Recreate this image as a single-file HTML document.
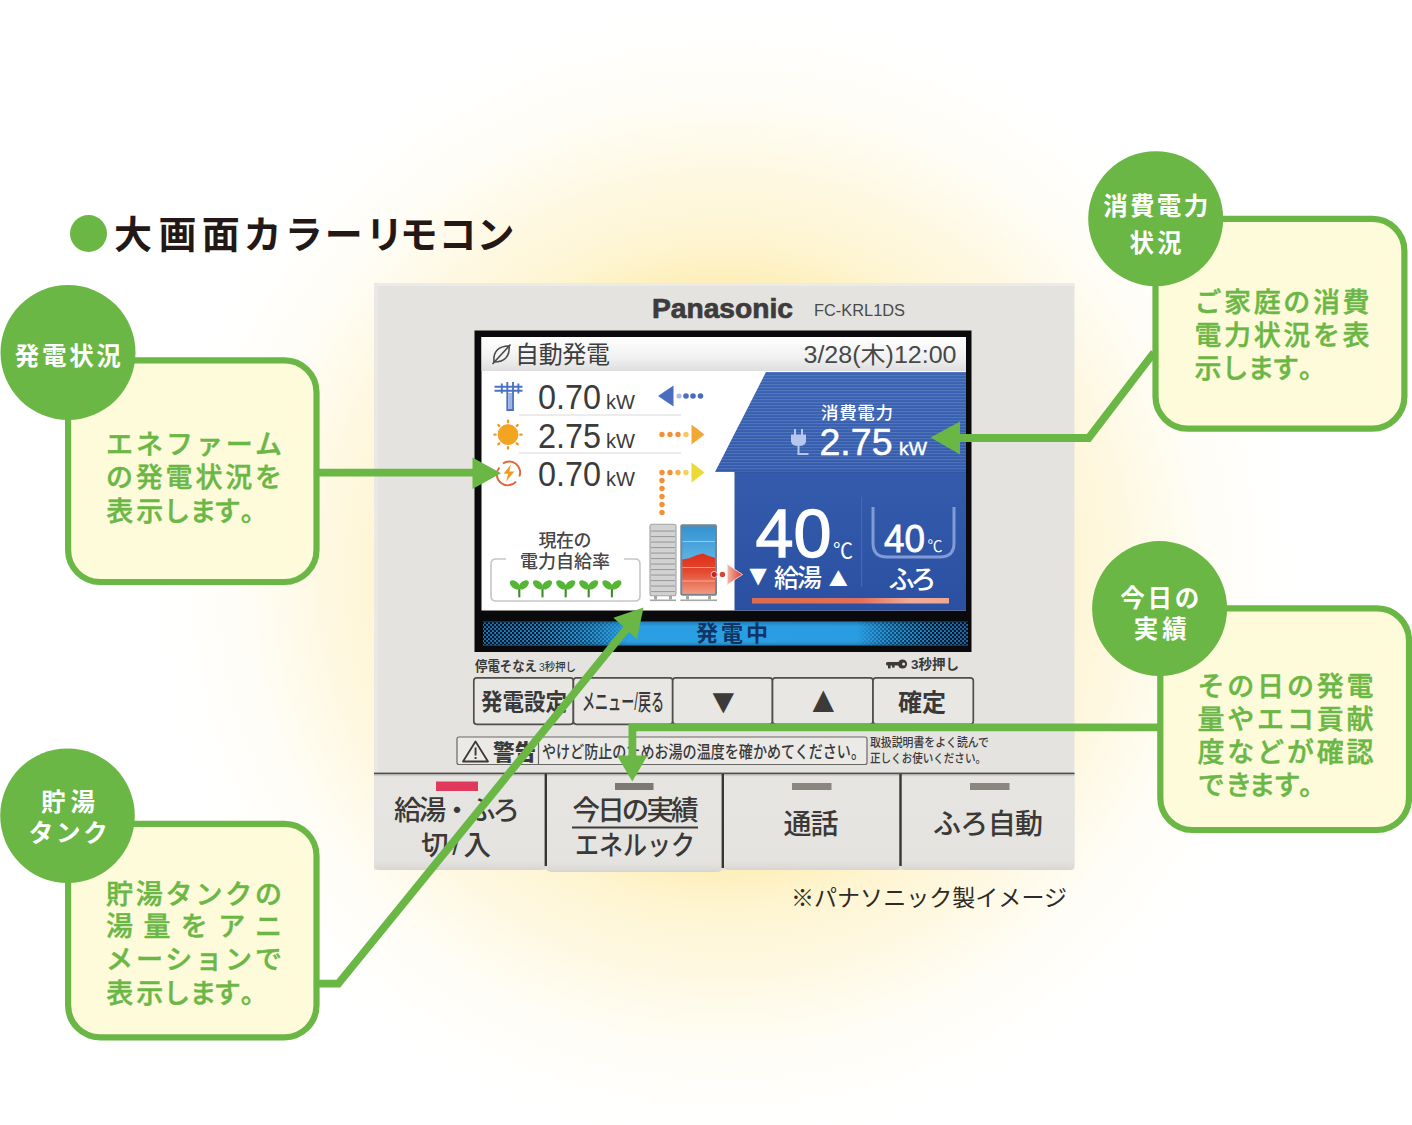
<!DOCTYPE html>
<html lang="ja">
<head>
<meta charset="utf-8">
<title>大画面カラーリモコン</title>
<style>
html,body{margin:0;padding:0;background:#fff;}
body{width:1412px;height:1125px;overflow:hidden;position:relative;font-family:"Liberation Sans","Noto Sans CJK JP",sans-serif;}
svg{position:absolute;left:0;top:0;display:block;}
text{font-family:"Liberation Sans","Noto Sans CJK JP",sans-serif;}
.gt{fill:#6bb745;font-size:27px;font-weight:500;stroke:#6bb745;stroke-width:0.45px;}
.ct{fill:#fff;font-size:24.5px;font-weight:700;text-anchor:middle;}
.dk{fill:#3a3a3a;}
.bt{fill:#3a3938;}
.wt{fill:#fff;}
</style>
</head>
<body>
<svg width="1412" height="1125" viewBox="0 0 1412 1125">
<defs>
<radialGradient id="glow" cx="0.5" cy="0.5" r="0.5">
<stop offset="0" stop-color="#fdeba8" stop-opacity="1"/>
<stop offset="0.5" stop-color="#fdeba8" stop-opacity="0.84"/>
<stop offset="0.55" stop-color="#fdeba8" stop-opacity="0.66"/>
<stop offset="0.6" stop-color="#fdeba8" stop-opacity="0.5"/>
<stop offset="0.64" stop-color="#fdeba8" stop-opacity="0.43"/>
<stop offset="0.7" stop-color="#fdeba8" stop-opacity="0.34"/>
<stop offset="0.76" stop-color="#fdeba8" stop-opacity="0.23"/>
<stop offset="0.84" stop-color="#fdeba8" stop-opacity="0.11"/>
<stop offset="0.93" stop-color="#fdeba8" stop-opacity="0.035"/>
<stop offset="1" stop-color="#fdeba8" stop-opacity="0"/>
</radialGradient>
<linearGradient id="hdr" x1="0" y1="0" x2="0" y2="1">
<stop offset="0" stop-color="#ffffff"/>
<stop offset="0.6" stop-color="#f1f1f1"/>
<stop offset="1" stop-color="#dedede"/>
</linearGradient>
<linearGradient id="blue" x1="0" y1="0" x2="0" y2="1">
<stop offset="0" stop-color="#3a63b4"/>
<stop offset="1" stop-color="#2b50a2"/>
</linearGradient>
<linearGradient id="redbar" x1="0" y1="0" x2="1" y2="0">
<stop offset="0" stop-color="#dd6a52"/>
<stop offset="0.55" stop-color="#e0705a"/>
<stop offset="0.8" stop-color="#f0ab98"/>
<stop offset="1" stop-color="#efa794"/>
</linearGradient>
<linearGradient id="status" x1="0" y1="0" x2="1" y2="0">
<stop offset="0" stop-color="#1f7fc0"/>
<stop offset="0.15" stop-color="#2894d6"/>
<stop offset="0.3" stop-color="#2b9fe3"/>
<stop offset="0.78" stop-color="#2a9de2"/>
<stop offset="0.9" stop-color="#2690d2"/>
<stop offset="1" stop-color="#1c75b4"/>
</linearGradient>
<mask id="dotmask" maskUnits="userSpaceOnUse" x="483" y="619" width="485" height="26"><rect x="483" y="619" width="485" height="26" fill="url(#dotmaskg)"/></mask>
<linearGradient id="statusfade" x1="0" y1="0" x2="0" y2="1">
<stop offset="0" stop-color="#000" stop-opacity="0.22"/>
<stop offset="0.2" stop-color="#000" stop-opacity="0"/>
<stop offset="0.85" stop-color="#000" stop-opacity="0"/>
<stop offset="1" stop-color="#000" stop-opacity="0.2"/>
</linearGradient>
<linearGradient id="dotmaskg" x1="0" y1="0" x2="1" y2="0">
<stop offset="0" stop-color="#fff"/><stop offset="0.12" stop-color="#eee"/><stop offset="0.22" stop-color="#888"/><stop offset="0.3" stop-color="#000"/><stop offset="0.77" stop-color="#000"/><stop offset="0.84" stop-color="#888"/><stop offset="0.92" stop-color="#eee"/><stop offset="1" stop-color="#fff"/>
</linearGradient>
<pattern id="dots" width="4" height="4" patternUnits="userSpaceOnUse"><circle cx="1" cy="1" r="1.35" fill="#03162b"/><circle cx="3" cy="3" r="1.35" fill="#03162b"/></pattern>
<linearGradient id="tarrow" x1="0" y1="0" x2="1" y2="0"><stop offset="0" stop-color="#f3b9a6"/><stop offset="1" stop-color="#dc3a2c"/></linearGradient>
<linearGradient id="btn" x1="0" y1="0" x2="0" y2="1"><stop offset="0" stop-color="#e6e5e1"/><stop offset="0.9" stop-color="#e4e3df"/><stop offset="0.97" stop-color="#dcdbd7"/><stop offset="1" stop-color="#d6d5d1"/></linearGradient>
<linearGradient id="water" x1="0" y1="0" x2="0" y2="1"><stop offset="0" stop-color="#3493d2"/><stop offset="0.45" stop-color="#59b0e2"/><stop offset="1" stop-color="#59b0e2"/></linearGradient>
<linearGradient id="hot" x1="0" y1="0" x2="0" y2="1"><stop offset="0" stop-color="#de2f1a"/><stop offset="0.45" stop-color="#e4492f"/><stop offset="1" stop-color="#f09a82"/></linearGradient>
<pattern id="stripes" width="4" height="3" patternUnits="userSpaceOnUse"><rect width="4" height="1.2" fill="#fff"/></pattern>
</defs>
<!-- BACKGROUND -->
<rect width="1412" height="1125" fill="#ffffff"/>
<ellipse cx="725" cy="574" rx="572" ry="570" fill="url(#glow)"/>
<!-- TITLE -->
<circle cx="88.5" cy="233.5" r="18.5" fill="#6bb745"/>
<text x="114.0 158.5 201.75 243.5 284.75 324.75 365.5 399.75 438.5 476.5" y="247.500" font-size="38" font-weight="700" fill="#231815">大画面カラーリモコン</text>
<!-- DEVICE -->
<g id="device">
<rect x="374" y="283" width="700.5" height="587" rx="3" fill="#e4e3df"/>
<rect x="374" y="283" width="700.5" height="3" fill="#ecebe8"/>
<rect x="374" y="283" width="4" height="587" fill="#e9e8e5"/>
<!-- brand -->
<text x="652" y="318" font-size="27" font-weight="700" fill="#3d3b3b" stroke="#3d3b3b" stroke-width="0.7" textLength="141" lengthAdjust="spacingAndGlyphs">Panasonic</text>
<text x="814" y="316" font-size="16" fill="#4a4a4a" textLength="91" lengthAdjust="spacingAndGlyphs">FC-KRL1DS</text>
<!-- small labels -->
<text x="475" y="671" font-size="13.5" font-weight="700" fill="#3a3a3a" textLength="62" lengthAdjust="spacingAndGlyphs">停電そなえ</text>
<text x="539" y="671" font-size="11" font-weight="500" fill="#3a3a3a" textLength="37" lengthAdjust="spacingAndGlyphs">3秒押し</text>
<g fill="#3a3a3a"><circle cx="902.5" cy="664" r="4.6"/><rect x="886" y="662" width="14" height="3.6" rx="1.5"/><rect x="888" y="664" width="2.6" height="4.4"/><rect x="892" y="664" width="2.6" height="3.6"/><circle cx="903.6" cy="664" r="1.5" fill="#e4e3df"/></g>
<text x="911" y="669" font-size="13.5" font-weight="700" fill="#3a3a3a" textLength="48" lengthAdjust="spacingAndGlyphs">3秒押し</text>
<!-- small buttons -->
<g fill="#e8e7e4" stroke="#524e4b" stroke-width="1.7">
<rect x="473.800" y="677.800" width="99.600" height="46.500" rx="3"/>
<rect x="573.400" y="677.800" width="99.300" height="46.500" rx="3"/>
<rect x="672.700" y="677.800" width="99.800" height="46.500" rx="3"/>
<rect x="772.500" y="677.800" width="100.500" height="46.500" rx="3"/>
<rect x="873" y="677.800" width="100.300" height="46.500" rx="3"/>
</g>
<text x="481" y="710" font-size="23" class="bt" font-weight="700" textLength="86" lengthAdjust="spacingAndGlyphs">発電設定</text>
<text x="582" y="710" font-size="23" class="bt" font-weight="500" textLength="82" lengthAdjust="spacingAndGlyphs">メニュー/戻る</text>
<text transform="translate(705.14 712.86) scale(0.3649 0.3448)" x="0" y="0" font-size="100" fill="#3c3b3a">▼</text>
<text transform="translate(805.14 712.40) scale(0.3649 0.3690)" x="0" y="0" font-size="100" fill="#3c3b3a">▲</text>
<text x="898" y="710.500" font-size="24" class="bt" font-weight="700" textLength="48" lengthAdjust="spacingAndGlyphs">確定</text>
<!-- warning row -->
<rect x="457" y="737" width="410" height="27.5" rx="2" fill="#ebeae7" stroke="#6a6865" stroke-width="1.2"/>
<line x1="538.5" y1="737" x2="538.5" y2="764.5" stroke="#6a6865" stroke-width="1.2"/>
<path d="M475.5 741.5L488 761.5H463Z" fill="none" stroke="#3a3a3a" stroke-width="1.8" stroke-linejoin="round"/>
<rect x="474.6" y="747.5" width="1.9" height="8" fill="#3a3a3a"/><rect x="474.6" y="757" width="1.9" height="2" fill="#3a3a3a"/>
<text x="493" y="759.5" font-size="22" font-weight="900" fill="#3a3a3a" textLength="43" lengthAdjust="spacingAndGlyphs">警告</text>
<text x="542" y="758" font-size="17.5" font-weight="500" fill="#3a3a3a" textLength="323" lengthAdjust="spacingAndGlyphs">やけど防止のためお湯の温度を確かめてください。</text>
<text x="870" y="747" font-size="12.5" font-weight="500" fill="#3a3a3a" textLength="119" lengthAdjust="spacingAndGlyphs">取扱説明書をよく読んで</text>
<text x="870" y="763" font-size="12.5" font-weight="500" fill="#3a3a3a" textLength="116" lengthAdjust="spacingAndGlyphs">正しくお使いください。</text>
<!-- big buttons -->
<rect x="374" y="774" width="172" height="96" rx="5" fill="url(#btn)"/>
<rect x="546" y="774" width="177" height="98" rx="5" fill="url(#btn)"/>
<rect x="723" y="774" width="177.500" height="96" rx="5" fill="url(#btn)"/>
<rect x="900.500" y="774" width="174" height="96" rx="5" fill="url(#btn)"/>
<rect x="374" y="772.600" width="700.500" height="1.900" fill="#4f4c49"/>
<rect x="374" y="774.500" width="700.500" height="1.600" fill="#cfcdc9"/>
<rect x="544.600" y="774" width="2.400" height="92" fill="#383533"/>
<rect x="721.600" y="774" width="2.400" height="94" fill="#383533"/>
<rect x="899.300" y="774" width="2.400" height="92" fill="#383533"/>
<rect x="436" y="781.5" width="42" height="9.5" fill="#e0395b"/>
<rect x="615" y="783" width="38.5" height="7" fill="#7d7873"/>
<rect x="792" y="783" width="39.5" height="7" fill="#8b8680"/>
<rect x="970" y="783" width="39.5" height="7" fill="#8b8680"/>
<text x="394" y="819.500" font-size="27.500" font-weight="500" class="bt" textLength="126" lengthAdjust="spacing">給湯・ふろ</text>
<text x="421" y="855" font-size="27.500" font-weight="500" class="bt" textLength="70" lengthAdjust="spacing">切/入</text>
<text x="572.500" y="819.500" font-size="27.500" font-weight="500" class="bt" textLength="126" lengthAdjust="spacing">今日の実績</text>
<rect x="572" y="826.5" width="126" height="2" fill="#3c3b3a"/>
<text x="575" y="855" font-size="27.500" font-weight="500" class="bt" textLength="120" lengthAdjust="spacingAndGlyphs">エネルック</text>
<text x="783.500" y="834" font-size="28" font-weight="500" class="bt" textLength="55" lengthAdjust="spacing">通話</text>
<text x="933" y="834" font-size="28" font-weight="500" class="bt" textLength="110" lengthAdjust="spacing">ふろ自動</text>
</g>
<text x="791" y="906" font-size="23" font-weight="400" fill="#2e2a28" textLength="276" lengthAdjust="spacing">※パナソニック製イメージ</text>
<!-- SCREEN -->
<g id="screen">
<rect x="474.5" y="330.5" width="497" height="321.5" fill="#0a0a0c"/>
<rect x="481.5" y="337" width="484.5" height="273.5" fill="#ffffff"/>
<rect x="481.5" y="337" width="484.5" height="34" fill="url(#hdr)"/>
<!-- header -->
<g fill="none" stroke="#4a4a4a" stroke-width="1.6"><path d="M494 362C493 352 498 346 509 346C510 356 505 362 494 362Z"/><path d="M492.5 364L510.5 344.5"/></g>
<text x="515" y="363" font-size="24" fill="#3d3d3d" textLength="95" lengthAdjust="spacing">自動発電</text>
<text x="803.5" y="362.5" font-size="23" fill="#484848" textLength="153" lengthAdjust="spacingAndGlyphs">3/28(木)12:00</text>
<!-- rows -->
<rect x="519" y="414.5" width="162" height="1" fill="#d9d9d9"/>
<rect x="519" y="452.5" width="162" height="1" fill="#d9d9d9"/>
<text x="538" y="408.5" font-size="35" fill="#3b3b3b" textLength="63" lengthAdjust="spacingAndGlyphs">0.70</text>
<text x="606" y="408.5" font-size="20" fill="#3b3b3b" textLength="29" lengthAdjust="spacingAndGlyphs">kW</text>
<text x="538" y="447.5" font-size="35" fill="#3b3b3b" textLength="63" lengthAdjust="spacingAndGlyphs">2.75</text>
<text x="606" y="447.5" font-size="20" fill="#3b3b3b" textLength="29" lengthAdjust="spacingAndGlyphs">kW</text>
<text x="538" y="486" font-size="35" fill="#3b3b3b" textLength="63" lengthAdjust="spacingAndGlyphs">0.70</text>
<text x="606" y="486" font-size="20" fill="#3b3b3b" textLength="29" lengthAdjust="spacingAndGlyphs">kW</text>
<!-- pylon icon -->
<g fill="none" stroke="#4b73c4" stroke-width="1.9"><path d="M494.500 386.700H522.500M494.500 390.800H522.500M507.300 382V410M513 382V410M506.400 410H514M501.800 383.500V393.500M518.400 383.500V393.500"/></g>
<rect x="508.200" y="393" width="3.900" height="16" fill="#9db3e6"/>
<!-- sun icon -->
<g stroke="#ee9a28" stroke-width="2.4" stroke-linecap="round"><path d="M508 420.800V422M508 447.200V448.400M494.400 434.600H495.600M520.400 434.600H521.600M498.400 425L499.200 425.800M516.800 443.400L517.600 444.200M498.400 444.200L499.200 443.400M516.800 425.800L517.600 425"/></g>
<circle cx="508" cy="434.600" r="10" fill="#f2a51e" stroke="#ee9a28" stroke-width="0.8"/>
<!-- fuel cell icon -->
<g fill="none" stroke="#e4653a" stroke-width="1.9"><path d="M499.400 467.500A10.800 10.800 0 0 0 516 481.500"/><path d="M503 463.600A10.800 10.800 0 0 1 519.300 476.500"/></g>
<path d="M511 464.500L503.600 473.800H508.200L506 481.500L514.400 471.500H509.400Z" fill="#f39a1e"/>
<!-- flow arrows -->
<path d="M658 396L673.5 385.5V406.5Z" fill="#4a6dc0"/>
<g fill="#4a6dc0"><circle cx="679" cy="396" r="2.6" fill="#a9bde8"/><circle cx="686" cy="396" r="2.8"/><circle cx="693" cy="396" r="2.8"/><circle cx="700.5" cy="396" r="2.8"/></g>
<g fill="#f0913a"><circle cx="662" cy="434.5" r="2.7"/><circle cx="670" cy="434.5" r="2.7"/><circle cx="678" cy="434.5" r="2.7"/><circle cx="686" cy="434.5" r="2.7" fill="#f6c66a"/></g>
<path d="M704.5 434.5L691.5 424.5V444.5Z" fill="#f3a733"/>
<g fill="#f0913a"><circle cx="662" cy="472.5" r="2.7"/><circle cx="670" cy="472.5" r="2.7"/><circle cx="678" cy="472.5" r="2.7" fill="#f3b050"/><circle cx="686" cy="472.5" r="2.7" fill="#f2d060"/><circle cx="662" cy="480.5" r="2.7"/><circle cx="662" cy="488.5" r="2.7"/><circle cx="662" cy="496.5" r="2.7"/><circle cx="662" cy="504.5" r="2.7"/><circle cx="662" cy="512.5" r="2.7"/></g>
<path d="M704.5 472.5L691.5 462.5V482.5Z" fill="#ecd935"/>
<!-- self-sufficiency -->
<text x="565" y="547" font-size="18" font-weight="500" fill="#464646" text-anchor="middle" textLength="53" lengthAdjust="spacing">現在の</text>
<text x="565" y="568" font-size="18" font-weight="500" fill="#464646" text-anchor="middle" textLength="90" lengthAdjust="spacing">電力自給率</text>
<path d="M506 559H496q-5 0-5 5V596q0 5 5 5H635q5 0 5-5V564q0-5-5-5H624" fill="none" stroke="#c6c6c6" stroke-width="1.6"/>
<g id="sprouts">
<g><path d="M519.300 597.300V588.500" stroke="#3f8a2c" stroke-width="2.100" fill="none"/><ellipse cx="514.800" cy="584.800" rx="5.900" ry="3.500" fill="#56b535" transform="rotate(40 514.800 584.800)"/><ellipse cx="523.800" cy="584.800" rx="5.900" ry="3.500" fill="#56b535" transform="rotate(-40 523.800 584.800)"/></g>
<g transform="translate(23.2 0)"><path d="M519.300 597.300V588.500" stroke="#3f8a2c" stroke-width="2.100" fill="none"/><ellipse cx="514.800" cy="584.800" rx="5.900" ry="3.500" fill="#56b535" transform="rotate(40 514.800 584.800)"/><ellipse cx="523.800" cy="584.800" rx="5.900" ry="3.500" fill="#56b535" transform="rotate(-40 523.800 584.800)"/></g>
<g transform="translate(46.4 0)"><path d="M519.300 597.300V588.500" stroke="#3f8a2c" stroke-width="2.100" fill="none"/><ellipse cx="514.800" cy="584.800" rx="5.900" ry="3.500" fill="#56b535" transform="rotate(40 514.800 584.800)"/><ellipse cx="523.800" cy="584.800" rx="5.900" ry="3.500" fill="#56b535" transform="rotate(-40 523.800 584.800)"/></g>
<g transform="translate(69.4 0)"><path d="M519.300 597.300V588.500" stroke="#3f8a2c" stroke-width="2.100" fill="none"/><ellipse cx="514.800" cy="584.800" rx="5.900" ry="3.500" fill="#56b535" transform="rotate(40 514.800 584.800)"/><ellipse cx="523.800" cy="584.800" rx="5.900" ry="3.500" fill="#56b535" transform="rotate(-40 523.800 584.800)"/></g>
<g transform="translate(92.6 0)"><path d="M519.300 597.300V588.500" stroke="#3f8a2c" stroke-width="2.100" fill="none"/><ellipse cx="514.800" cy="584.800" rx="5.900" ry="3.500" fill="#56b535" transform="rotate(40 514.800 584.800)"/><ellipse cx="523.800" cy="584.800" rx="5.900" ry="3.500" fill="#56b535" transform="rotate(-40 523.800 584.800)"/></g>
</g>
<!-- tanks -->
<g>
<rect x="650" y="524.300" width="26" height="71.500" rx="2" fill="#d2d2d2" stroke="#a3a3a3" stroke-width="1.100"/>
<g fill="#9c9c9c"><rect x="651" y="530.500" width="24" height="1.100"/><rect x="651" y="536" width="24" height="1.100"/><rect x="651" y="541.500" width="24" height="1.100"/><rect x="651" y="547" width="24" height="1.100"/><rect x="651" y="552.500" width="24" height="1.100"/><rect x="651" y="558" width="24" height="1.100"/><rect x="651" y="563.500" width="24" height="1.100"/><rect x="651" y="569" width="24" height="1.100"/><rect x="651" y="574.500" width="24" height="1.100"/><rect x="651" y="580" width="24" height="1.100"/><rect x="651" y="585.500" width="24" height="1.100"/><rect x="651" y="591" width="24" height="1.100"/></g>
<g fill="#a6a6a6"><rect x="654" y="596" width="3" height="3.500"/><rect x="669" y="596" width="3" height="3.500"/><rect x="650" y="599.500" width="26" height="1.600"/></g>
<rect x="680.300" y="524.300" width="36.700" height="71.500" rx="2" fill="#76858f"/>
<rect x="682.300" y="526.500" width="32.700" height="67.300" fill="url(#water)"/>
<path d="M682.300 559.500L689 558.300L697 555L703 553.600L708 555.800L715 557.800V593.800H682.300Z" fill="url(#hot)"/>
<g fill="#ffffff" opacity="0.45"><rect x="682.300" y="541" width="32.700" height="1"/><rect x="682.300" y="567" width="32.700" height="1"/><rect x="682.300" y="580.500" width="32.700" height="1"/></g>
<g fill="#a6a6a6"><rect x="686" y="596" width="3" height="3.500"/><rect x="708" y="596" width="3" height="3.500"/><rect x="680.300" y="599.500" width="36.700" height="1.600"/></g>
</g>
<!-- blue panel -->
<path d="M766 372H966V610.5H734.5V472H715Z" fill="url(#blue)"/>
<path d="M766 372H966V472H715Z" fill="url(#stripes)" opacity="0.13"/>
<path d="M734.5 472H966" stroke="#2a4c9a" stroke-width="1.2" opacity="0.6"/>
<text x="857" y="419" font-size="17.5" font-weight="500" class="wt" text-anchor="middle" textLength="72" lengthAdjust="spacing">消費電力</text>
<g fill="#b7c6ec"><rect x="794" y="429" width="2" height="6"/><rect x="801" y="429" width="2" height="6"/><path d="M791 434.5H806V441Q806 446 798.5 446Q791 446 791 441Z"/><rect x="797.5" y="446" width="2" height="8"/><rect x="797.5" y="453" width="11" height="2"/></g>
<text x="819.5" y="454.5" font-size="37" class="wt" stroke="#fff" stroke-width="0.5" textLength="73" lengthAdjust="spacingAndGlyphs">2.75</text>
<text x="899" y="454.5" font-size="19" class="wt" stroke="#fff" stroke-width="0.4" textLength="28" lengthAdjust="spacingAndGlyphs">kW</text>
<text x="755.5" y="557" font-size="68" class="wt" stroke="#fff" stroke-width="1.3" textLength="76" lengthAdjust="spacingAndGlyphs">40</text>
<text x="833" y="557.5" font-size="21" class="wt" textLength="20" lengthAdjust="spacingAndGlyphs">℃</text>
<text transform="translate(743.41 584.72) scale(0.2947 0.2828)" x="0" y="0" font-size="100" fill="#fff">▼</text>
<text x="774" y="587" font-size="25" font-weight="500" class="wt" textLength="48" lengthAdjust="spacing">給湯</text>
<text transform="translate(823.12 585.60) scale(0.3088 0.2690)" x="0" y="0" font-size="100" fill="#fff">▲</text>
<rect x="861" y="497" width="1.2" height="90" fill="#4567b4"/>
<path d="M873 507V543Q873 557 887 557H940Q954 557 954 543V507" fill="none" stroke="#829bd6" stroke-width="3"/>
<text x="884" y="552" font-size="38" class="wt" stroke="#fff" stroke-width="0.8" textLength="41" lengthAdjust="spacingAndGlyphs">40</text>
<text x="927.5" y="551.5" font-size="16" class="wt" textLength="15" lengthAdjust="spacingAndGlyphs">℃</text>
<text x="912.5" y="588.500" font-size="26" font-weight="500" class="wt" text-anchor="middle" textLength="48" lengthAdjust="spacing">ふろ</text>
<rect x="752" y="598" width="197" height="5.5" fill="url(#redbar)"/>
<circle cx="714.200" cy="574.500" r="3.100" fill="#c9202c" stroke="#f7d9d2" stroke-width="0.900"/><circle cx="722.400" cy="574.500" r="2.700" fill="#d8433a"/>
<path d="M742.500 574.500L727.300 564.300V584.700Z" fill="url(#tarrow)" stroke="#fbe3dc" stroke-width="0.800"/>
<!-- status bar -->
<rect x="483" y="621.5" width="485" height="24" fill="url(#status)"/>
<rect x="483" y="621.5" width="485" height="24" fill="url(#dots)" mask="url(#dotmask)"/>
<rect x="483" y="621.5" width="485" height="24" fill="url(#statusfade)"/>
<text x="732" y="641" font-size="22" font-weight="700" fill="#0f3566" text-anchor="middle" textLength="72" lengthAdjust="spacing">発電中</text>
</g>
<!-- CALLOUTS -->
<g id="callouts">
<!-- boxes -->
<g fill="#fefbda" stroke="#6bb745" stroke-width="6.2">
<rect x="68.100" y="360.300" width="248.400" height="221.700" rx="32"/>
<rect x="68.100" y="823.800" width="248.400" height="213.500" rx="32"/>
<rect x="1155.500" y="218.900" width="248.900" height="209.700" rx="32"/>
<rect x="1160.300" y="608.400" width="248.700" height="221.600" rx="32"/>
</g>
<!-- circles -->
<circle cx="68" cy="352.500" r="67.5" fill="#6bb745"/>
<circle cx="67.500" cy="815.700" r="67.300" fill="#6bb745"/>
<circle cx="1155.700" cy="218.700" r="67.500" fill="#6bb745"/>
<circle cx="1159.600" cy="608.600" r="67.500" fill="#6bb745"/>
<!-- circle labels -->
<text x="67.800" y="365" class="ct" textLength="106" lengthAdjust="spacing">発電状況</text>
<text x="68" y="810.800" class="ct" textLength="54" lengthAdjust="spacing">貯湯</text>
<text x="68.200" y="842.200" class="ct" textLength="79" lengthAdjust="spacing">タンク</text>
<text x="1155.700" y="215.400" class="ct" textLength="105" lengthAdjust="spacing">消費電力</text>
<text x="1155.500" y="252.300" class="ct" textLength="52" lengthAdjust="spacing">状況</text>
<text x="1159.700" y="607" class="ct" textLength="79" lengthAdjust="spacing">今日の</text>
<text x="1160.300" y="638.300" class="ct" textLength="53" lengthAdjust="spacing">実績</text>
<!-- body text -->
<text x="106" y="453.500" class="gt" textLength="176" lengthAdjust="spacing">エネファーム</text>
<text x="106" y="487" class="gt" textLength="176" lengthAdjust="spacing">の発電状況を</text>
<text x="106.2 136.3 163.3 189.4 213.7 240.7" y="520.5" class="gt">表示します。</text>
<text x="106" y="904" class="gt" textLength="176" lengthAdjust="spacing">貯湯タンクの</text>
<text x="106" y="936" class="gt" textLength="176" lengthAdjust="spacing">湯量をアニ</text>
<text x="106" y="968.500" class="gt" textLength="176" lengthAdjust="spacing">メーションで</text>
<text x="106.2 136.3 163.3 189.4 213.7 240.7" y="1002.5" class="gt">表示します。</text>
<text x="1194.500" y="311.500" class="gt" textLength="175" lengthAdjust="spacing">ご家庭の消費</text>
<text x="1194.500" y="344.500" class="gt" textLength="175" lengthAdjust="spacing">電力状況を表</text>
<text x="1194.5 1221.5 1247.6 1271.9 1298.9" y="377.5" class="gt">示します。</text>
<text x="1197.500" y="695.500" class="gt" textLength="176" lengthAdjust="spacing">その日の発電</text>
<text x="1197.500" y="728.500" class="gt" textLength="176" lengthAdjust="spacing">量やエコ貢献</text>
<text x="1197.500" y="761.500" class="gt" textLength="176" lengthAdjust="spacing">度などが確認</text>
<text x="1197.7 1225.2 1248.6 1273.6 1299.2" y="794.5" class="gt">できます。</text>
</g>
<!-- ARROWS -->
<g id="arrows" fill="none" stroke="#6bb745" stroke-width="7.8" stroke-linejoin="miter">
<path d="M318 472.600H476"/>
<path d="M318 983.600H338.300L629 625.700"/>
<path d="M958 438H1088.600L1154 352.500"/>
<path d="M1159 727.300H632.400V760"/>
</g>
<g fill="#6bb745">
<path d="M472.500 457.500V489L501 473.200Z"/>
<path d="M643.500 607.500L613.400 617.700L636.900 639Z"/>
<path d="M930.500 437.600L960 421.500V454.500Z"/>
<path d="M617 755.500H647.500L632.300 781.500Z"/>
</g>
</svg>
</body>
</html>
